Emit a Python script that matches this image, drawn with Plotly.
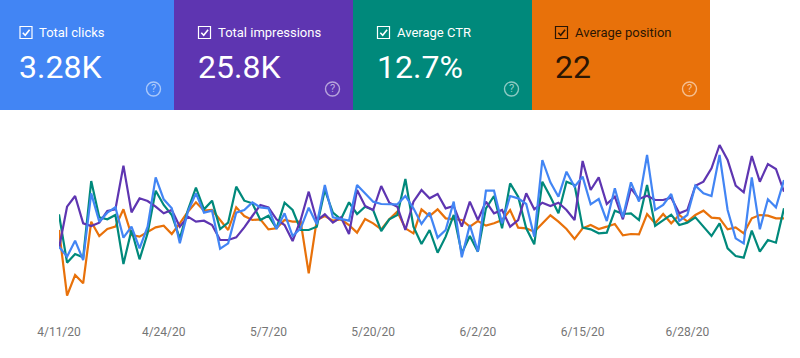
import plotly.graph_objects as go
import pandas as pd

clicks = [190,160,208,150,350,265,292,308,217,250,185,250,398,332,305,200,295,350,292,298,184,200,
292,300,323,308,305,243,290,222,245,307,257,375,278,272,268,375,350,325,318,318,317,342,305,
258,292,217,240,325,158,255,175,358,358,260,342,335,318,220,450,383,340,415,370,400,317,333,
267,365,278,383,325,465,300,315,348,267,285,373,350,342,465,300,215,200,398,242,332,308,390]
impressions = [185,310,342,260,252,262,297,302,433,293,335,327,310,290,300,250,280,265,268,255,210,210,
218,248,282,315,308,272,255,207,270,355,268,287,262,278,228,360,312,300,372,322,310,240,325,
360,335,348,305,312,250,325,270,325,290,300,250,270,350,302,322,312,322,300,270,447,360,398,
318,340,272,365,333,343,330,330,337,290,300,373,385,425,495,450,373,353,462,385,438,423,355]
ctr = [287,142,168,158,387,278,272,285,138,240,152,230,358,315,285,215,300,367,302,328,243,262,
370,328,320,270,283,245,322,300,240,240,250,360,292,272,323,288,310,300,237,272,285,393,250,
198,240,172,220,285,170,222,175,305,342,245,380,340,245,197,385,340,290,385,375,247,242,230,
232,298,288,290,270,375,252,268,286,255,262,278,250,222,260,185,162,157,238,175,210,202,305]
position = [240,43,105,80,265,222,243,250,302,225,220,235,248,253,228,260,295,323,298,300,270,240,
308,282,270,272,242,245,270,265,265,110,270,282,268,272,255,232,273,260,242,272,295,245,230,
302,282,302,275,272,270,250,267,253,260,270,300,247,245,235,260,284,265,243,213,245,255,243,
250,258,224,228,227,288,260,288,260,285,265,285,298,277,275,242,248,230,275,285,283,275,275]

card_labels = ["Total clicks", "Total impressions", "Average CTR", "Average position"]
card_values = ["3.28K", "25.8K", "12.7%", "22"]
card_colors = ["#4285F4", "#5E35B1", "#00897B", "#E8710A"]
card_left = [0, 174, 353, 532]
card_right = [174, 353, 532, 710]
card_content = [20, 198.5, 377.5, 555.5]
card_ink = ["#FFFFFF", "#FFFFFF", "#FFFFFF", "#2B1604"]
tick_dates = ["2020-04-11", "2020-04-24", "2020-05-07", "2020-05-20", "2020-06-02", "2020-06-15", "2020-06-28"]
tick_labels = ["4/11/20", "4/24/20", "5/7/20", "5/20/20", "6/2/20", "6/15/20", "6/28/20"]

dates = pd.date_range("2020-04-11", periods=len(clicks), freq="D")

L, R, T, B = 59, 784, 130, 310
W, H = 800, 358
X = lambda p: (p - L) / (R - L)
Y = lambda p: (B - p) / (B - T)

fig = go.Figure()
for name, vals, col in [("Average position", position, "#E8710A"),
                        ("Average CTR", ctr, "#00897B"),
                        ("Total impressions", impressions, "#5E35B1"),
                        ("Total clicks", clicks, "#4285F4")]:
    fig.add_trace(go.Scatter(x=dates, y=vals, mode="lines", name=name,
                             line=dict(color=col, width=2.2), hoverinfo="skip"))

shapes, ann = [], []
for i, lab in enumerate(card_labels):
    x0, x1, ink, bx = card_left[i], card_right[i], card_ink[i], card_content[i]
    shapes.append(dict(type="rect", xref="paper", yref="paper", layer="below",
                       x0=X(x0), x1=X(x1), y0=Y(0), y1=Y(110),
                       fillcolor=card_colors[i], line_width=0))
    shapes.append(dict(type="rect", xref="paper", yref="paper",
                       x0=X(bx), x1=X(bx + 12), y0=Y(26.5), y1=Y(38.5),
                       line=dict(color=ink, width=1.2), fillcolor="rgba(0,0,0,0)"))
    path = f"M {X(bx+2.8)} {Y(32.8)} L {X(bx+5.2)} {Y(35.2)} L {X(bx+9.6)} {Y(29.8)}"
    shapes.append(dict(type="path", xref="paper", yref="paper", path=path,
                       line=dict(color=ink, width=1.6)))
    cx, cy = x1 - 20.5, 89
    shapes.append(dict(type="circle", xref="paper", yref="paper",
                       x0=X(cx - 7), x1=X(cx + 7), y0=Y(cy - 7), y1=Y(cy + 7),
                       line=dict(color="rgba(255,255,255,0.55)", width=1.4),
                       fillcolor="rgba(0,0,0,0)"))
    ann.append(dict(xref="paper", yref="paper", x=X(bx + 17), y=Y(32.5), text=lab, showarrow=False,
                    xanchor="left", yanchor="middle",
                    font=dict(family="Roboto", size=13, color=ink)))
    ann.append(dict(xref="paper", yref="paper", x=X(bx - 3), y=Y(67), text=card_values[i], showarrow=False,
                    xanchor="left", yanchor="middle",
                    font=dict(family="Roboto", size=32, color=ink)))
    ann.append(dict(xref="paper", yref="paper", x=X(cx), y=Y(cy), text="?", showarrow=False,
                    xanchor="center", yanchor="middle",
                    font=dict(family="Roboto", size=11, color="rgba(255,255,255,0.6)")))

fig.update_layout(
    width=W, height=H, autosize=False,
    margin=dict(l=L, r=W - R, t=T, b=H - B),
    paper_bgcolor="white", plot_bgcolor="white", showlegend=False,
    shapes=shapes, annotations=ann,
    xaxis=dict(type="date", range=[dates[0], dates[-1]], tickmode="array",
               tickvals=tick_dates, ticktext=tick_labels, showgrid=False, zeroline=False,
               showline=False, ticks="", ticklabelstandoff=13,
               tickfont=dict(family="Roboto", size=12, color="#757575")),
    yaxis=dict(range=[0, 540], visible=False),
)
fig.write_html("out.html", config={"displayModeBar": False},
               post_script="document.body.style.margin='0';document.documentElement.style.overflow='hidden';")
